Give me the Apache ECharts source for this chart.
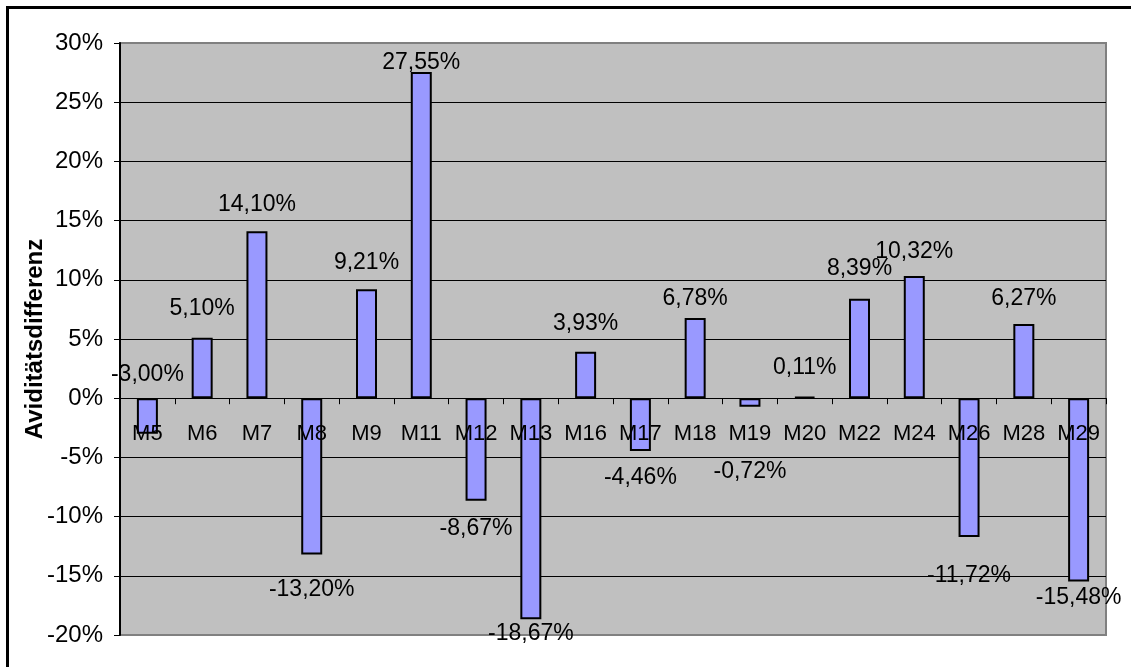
<!DOCTYPE html>
<html>
<head>
<meta charset="utf-8">
<script src="https://cdn.jsdelivr.net/npm/echarts@6/dist/echarts.min.js"></script>
<style>
  html, body { margin: 0; padding: 0; background: #ffffff; }
  #chart { width: 1131px; height: 667px; }
</style>
</head>
<body>
<div id="chart"></div>
<script>
// Avidity difference per sample (percent)
const categories = ['M5', 'M6', 'M7', 'M8', 'M9', 'M11', 'M12', 'M13', 'M16', 'M17',
                    'M18', 'M19', 'M20', 'M22', 'M24', 'M26', 'M28', 'M29'];
const values = [-3.00, 5.10, 14.10, -13.20, 9.21, 27.55, -8.67, -18.67, 3.93, -4.46,
                6.78, -0.72, 0.11, 8.39, 10.32, -11.72, 6.27, -15.48];
const yTicks = { min: -20, max: 30, step: 5 };
const axisTitle = 'Aviditätsdifferenz';

// Hand-placed data label gaps (px from bar end), per bar
const labelGap = [12, 18, 15, 24, 15, -2, 16, 3, 17, 15, 8, 53, 17, 19, 13, 27, 14, 5];
// The first label sits above the zero line instead of below its bar
const labelAbove = [true];

const FONT = '"Liberation Sans", Arial, sans-serif';
const fmtPct = v => v.toFixed(2).replace('.', ',') + '%';

const seriesData = values.map((v, i) => {
  const above = v >= 0 || labelAbove[i] === true;
  return {
    value: v,
    label: { position: above ? 'top' : 'bottom', distance: labelGap[i] }
  };
});

// Split line colours: outer lines grey (plot frame), inner lines black
const nLines = Math.round((yTicks.max - yTicks.min) / yTicks.step) + 1;
const splitColors = [];
for (let i = 0; i < nLines; i++) splitColors.push(i === 0 || i === nLines - 1 ? '#808080' : '#000000');

// Plot box in pixels
const GRID = { left: 120, right: 25, top: 43, bottom: 32 };
const plotH = 667 - GRID.top - GRID.bottom;
// Lift the category axis from the bottom edge up to the 0 % line
const zeroLift = plotH * (0 - yTicks.min) / (yTicks.max - yTicks.min);

const chart = echarts.init(document.getElementById('chart'), null, { renderer: 'canvas' });
chart.setOption({
  backgroundColor: '#ffffff',
  animation: false,
  textStyle: { fontFamily: FONT },
  graphic: [{
    type: 'rect',
    silent: true,
    z: 100,
    shape: { x: 7.5, y: 7.5, width: 1140, height: 680 },
    style: { fill: 'none', stroke: '#000000', lineWidth: 3 }
  }],
  grid: {
    left: GRID.left, right: GRID.right, top: GRID.top, bottom: GRID.bottom,
    containLabel: false,
    outerBoundsMode: 'none',
    show: true,
    backgroundColor: '#c0c0c0',
    borderColor: '#808080',
    borderWidth: 2
  },
  xAxis: {
    type: 'category',
    data: categories,
    z: 5,
    position: 'bottom',
    offset: -zeroLift,
    axisLine: { onZero: false, lineStyle: { color: '#000000', width: 1 } },
    axisTick: { show: true, inside: false, length: 6, alignWithLabel: false,
                lineStyle: { color: '#000000', width: 1 } },
    axisLabel: { color: '#000000', fontSize: 22, fontFamily: FONT, margin: 25, interval: 0,
                 hideOverlap: false },
    splitLine: { show: false }
  },
  yAxis: {
    type: 'value',
    min: yTicks.min, max: yTicks.max, interval: yTicks.step,
    name: axisTitle,
    nameLocation: 'middle',
    nameGap: 73,
    nameRotate: 90,
    nameMoveOverlap: false,
    nameTextStyle: { color: '#000000', fontSize: 24, fontWeight: 'bold', fontFamily: FONT },
    axisLine: { show: true, lineStyle: { color: '#000000', width: 2 } },
    axisTick: { show: true, inside: false, length: 6, lineStyle: { color: '#000000', width: 1 } },
    axisLabel: { color: '#000000', fontSize: 24, fontFamily: FONT, margin: 17,
                 formatter: v => v + '%' },
    splitLine: { show: true, lineStyle: { color: splitColors, width: 1 } }
  },
  series: [{
    type: 'bar',
    data: seriesData,
    barWidth: 21,
    itemStyle: { color: '#9999ff', borderColor: '#000000', borderWidth: 2 },
    label: {
      show: true,
      color: '#000000',
      fontSize: 23,
      fontFamily: FONT,
      formatter: p => fmtPct(p.value)
    }
  }]
});
</script>
</body>
</html>
